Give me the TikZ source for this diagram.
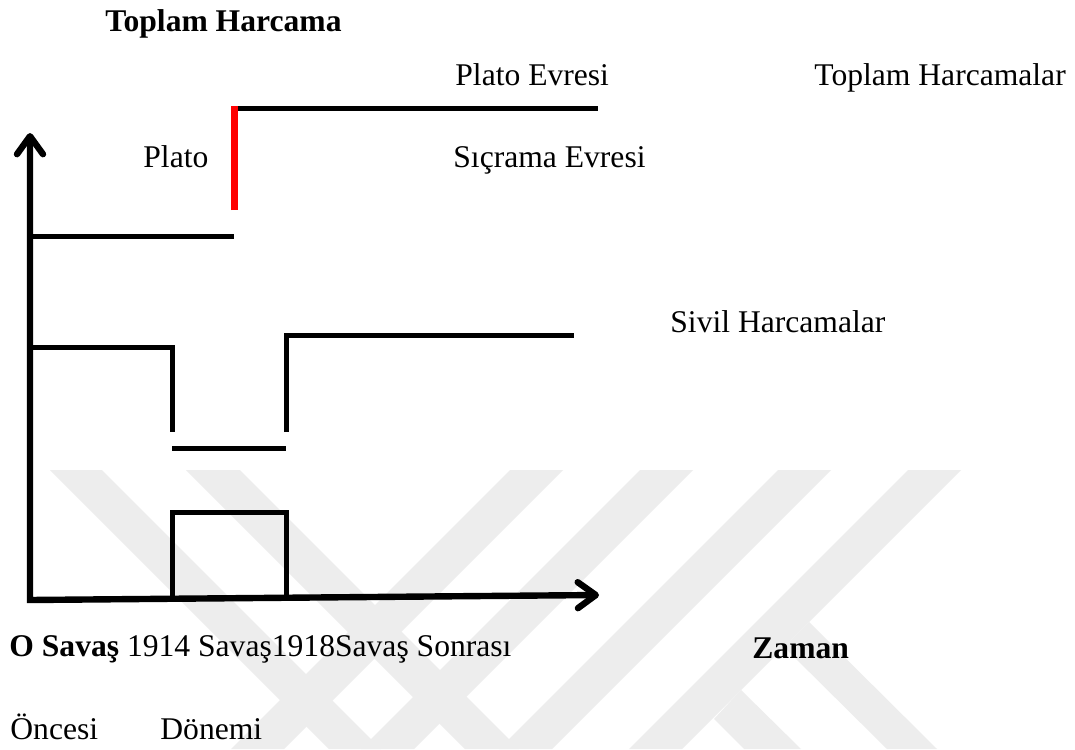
\documentclass[tikz,border=0pt]{standalone}
\usepackage{fontspec}
\setmainfont{Liberation Serif}
\usetikzlibrary{arrows.meta}
\begin{document}
\begin{tikzpicture}[x=0.5pt,y=-0.5pt,
  wm/.style={fill=black!7},
  ln/.style={line width=2.5pt, line join=miter},
  axis/.style={line width=3.2pt, line join=miter,
    {Straight Barb[length=9pt,width=13pt,round]}-{Straight Barb[length=9pt,width=13pt,round]}},
  redln/.style={line width=3.5pt, draw=red},
  lbl/.style={anchor=base west, inner sep=0pt, font=\fontsize{15.8pt}{19pt}\selectfont}]
\useasboundingbox (0,0) rectangle (1075,749);
\fill[white] (0,0) rectangle (1075,749);
% watermark
\begin{scope}
\clip (0,470) rectangle (1075,749);
\fill[wm] (50,470) -- (102,470) -- (381,749) -- (329,749) -- cycle;
\fill[wm] (186,470) -- (240,470) -- (519,749) -- (465,749) -- cycle;
\fill[wm] (510,470) -- (563,470) -- (284,749) -- (231,749) -- cycle;
\fill[wm] (640,470) -- (693,470) -- (414,749) -- (361,749) -- cycle;
\fill[wm] (778,470) -- (831,470) -- (552,749) -- (499,749) -- cycle;
\fill[wm] (908,470) -- (961,470) -- (682,749) -- (629,749) -- cycle;
\fill[wm] (809,622) -- (937,749) -- (887,749) -- (784,647) -- cycle;
\fill[wm] (741,690) -- (801,749) -- (744,749) -- (714,719) -- cycle;
\end{scope}
% coordinates
\coordinate (O) at (30,600);
\coordinate (Ytip) at (30,133);
\coordinate (Xtip) at (599,595);
\coordinate (t1) at (30,236);
\coordinate (t2) at (234,236);
\coordinate (r1) at (234,210);
\coordinate (r2) at (234,106);
\coordinate (p1) at (234,108.5);
\coordinate (p2) at (598,108.5);
\coordinate (s1) at (30,347);
\coordinate (s2) at (172,347);
\coordinate (s3) at (172,432);
\coordinate (s4) at (172,448);
\coordinate (s5) at (286,448);
\coordinate (s6) at (286,432);
\coordinate (s7) at (286,335);
\coordinate (s8) at (574,335);
\coordinate (b1) at (172,598);
\coordinate (b2) at (172,512);
\coordinate (b3) at (286,512);
\coordinate (b4) at (286,596);
% lines
\draw[axis] (Ytip) -- (O) -- (Xtip);
\draw[ln] (t1) -- (t2);
\draw[ln] (p1) -- (p2);
\draw[redln] (r1) -- (r2);
\draw[ln] (s1) -- (s2) -- (s3);
\draw[ln] (s4) -- (s5);
\draw[ln] (s6) -- (s7) -- (s8);
\draw[ln] (b1) -- (b2) -- (b3) -- (b4);
% labels
\node[lbl] (ttl) at (105,32) {\bfseries Toplam Harcama};
\node[lbl] (pe) at (455,86) {Plato Evresi};
\node[lbl] (th) at (814,86) {Toplam Harcamalar};
\node[lbl] (pl) at (143,167) {Plato};
\node[lbl] (se) at (453,167) {Sıçrama Evresi};
\node[lbl] (sh) at (670,332) {Sivil Harcamalar};
\node[lbl] (ax) at (9,656) {\textbf{O Savaş} 1914 Savaş1918Savaş Sonrası};
\node[lbl] (zm) at (752,658) {\bfseries Zaman};
\node[lbl] (on) at (10,739) {Öncesi};
\node[lbl] (dn) at (160,739) {Dönemi};
\end{tikzpicture}
\end{document}
